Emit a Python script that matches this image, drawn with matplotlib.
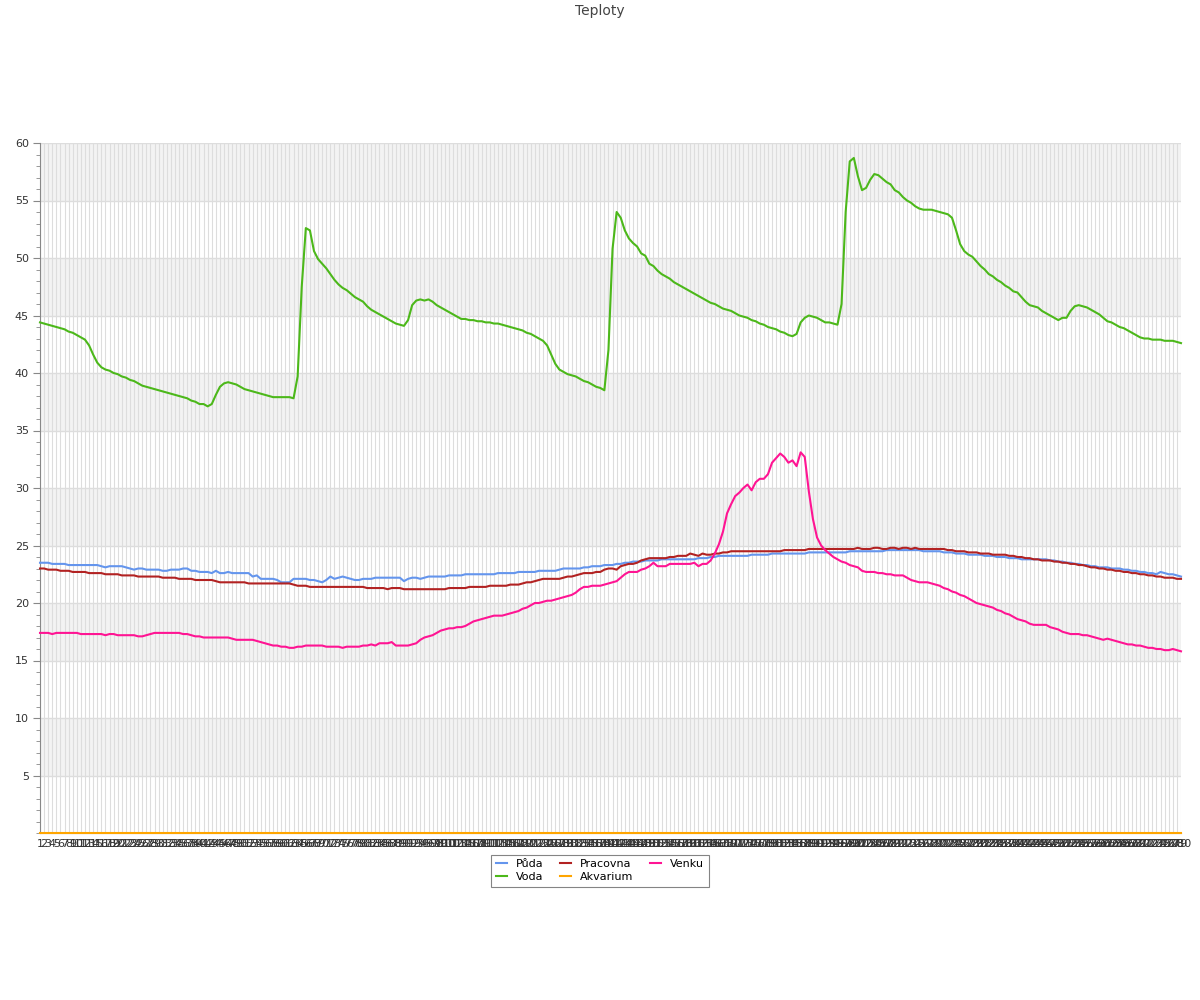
import matplotlib
matplotlib.use("Agg")
import matplotlib.pyplot as plt
from matplotlib.ticker import MultipleLocator

# Category labels on the x axis (one per measurement)
labels = [str(n) for n in range(1, 281)]

puda = [
    23.5, 23.5, 23.5, 23.4, 23.4, 23.4, 23.4, 23.3, 23.3, 23.3,
    23.3, 23.3, 23.3, 23.3, 23.3, 23.2, 23.1, 23.2, 23.2, 23.2,
    23.2, 23.1, 23.0, 22.9, 23.0, 23.0, 22.9, 22.9, 22.9, 22.9,
    22.8, 22.8, 22.9, 22.9, 22.9, 23.0, 23.0, 22.8, 22.8, 22.7,
    22.7, 22.7, 22.6, 22.8, 22.6, 22.6, 22.7, 22.6, 22.6, 22.6,
    22.6, 22.6, 22.3, 22.4, 22.1, 22.1, 22.1, 22.1, 22.0, 21.8,
    21.8, 21.8, 22.1, 22.1, 22.1, 22.1, 22.0, 22.0, 21.9, 21.8,
    22.0, 22.3, 22.1, 22.2, 22.3, 22.2, 22.1, 22.0, 22.0, 22.1,
    22.1, 22.1, 22.2, 22.2, 22.2, 22.2, 22.2, 22.2, 22.2, 21.9,
    22.1, 22.2, 22.2, 22.1, 22.2, 22.3, 22.3, 22.3, 22.3, 22.3,
    22.4, 22.4, 22.4, 22.4, 22.5, 22.5, 22.5, 22.5, 22.5, 22.5,
    22.5, 22.5, 22.6, 22.6, 22.6, 22.6, 22.6, 22.7, 22.7, 22.7,
    22.7, 22.7, 22.8, 22.8, 22.8, 22.8, 22.8, 22.9, 23.0, 23.0,
    23.0, 23.0, 23.0, 23.1, 23.1, 23.2, 23.2, 23.2, 23.3, 23.3,
    23.3, 23.4, 23.4, 23.5, 23.5, 23.6, 23.6, 23.6, 23.7, 23.7,
    23.7, 23.7, 23.8, 23.8, 23.8, 23.8, 23.8, 23.8, 23.8, 23.8,
    23.8, 23.9, 23.9, 23.9, 24.0, 24.0, 24.1, 24.1, 24.1, 24.1,
    24.1, 24.1, 24.1, 24.1, 24.2, 24.2, 24.2, 24.2, 24.2, 24.3,
    24.3, 24.3, 24.3, 24.3, 24.3, 24.3, 24.3, 24.3, 24.4, 24.4,
    24.4, 24.4, 24.4, 24.4, 24.4, 24.4, 24.4, 24.4, 24.5, 24.5,
    24.5, 24.5, 24.5, 24.5, 24.5, 24.5, 24.5, 24.6, 24.6, 24.6,
    24.6, 24.6, 24.6, 24.6, 24.6, 24.6, 24.5, 24.5, 24.5, 24.5,
    24.5, 24.4, 24.4, 24.4, 24.3, 24.3, 24.3, 24.2, 24.2, 24.2,
    24.2, 24.1, 24.1, 24.1, 24.0, 24.0, 24.0, 23.9, 23.9, 23.9,
    23.8, 23.8, 23.8, 23.8, 23.8, 23.8, 23.8, 23.7, 23.7, 23.6,
    23.6, 23.5, 23.5, 23.4, 23.4, 23.3, 23.3, 23.2, 23.2, 23.1,
    23.1, 23.1, 23.0, 23.0, 23.0, 22.9, 22.9, 22.8, 22.8, 22.7,
    22.7, 22.6, 22.6, 22.5, 22.7, 22.6, 22.5, 22.5, 22.4, 22.3,
]

voda = [
    44.4, 44.3, 44.2, 44.1, 44.0, 43.9, 43.8, 43.6, 43.5, 43.3,
    43.1, 42.9, 42.4, 41.6, 40.9, 40.5, 40.3, 40.2, 40.0, 39.9,
    39.7, 39.6, 39.4, 39.3, 39.1, 38.9, 38.8, 38.7, 38.6, 38.5,
    38.4, 38.3, 38.2, 38.1, 38.0, 37.9, 37.8, 37.6, 37.5, 37.3,
    37.3, 37.1, 37.3, 38.1, 38.8, 39.1, 39.2, 39.1, 39.0, 38.8,
    38.6, 38.5, 38.4, 38.3, 38.2, 38.1, 38.0, 37.9, 37.9, 37.9,
    37.9, 37.9, 37.8, 39.7, 47.5, 52.6, 52.4, 50.6, 49.9, 49.5,
    49.1, 48.6, 48.1, 47.7, 47.4, 47.2, 46.9, 46.6, 46.4, 46.2,
    45.8, 45.5, 45.3, 45.1, 44.9, 44.7, 44.5, 44.3, 44.2, 44.1,
    44.6, 45.9, 46.3, 46.4, 46.3, 46.4, 46.2, 45.9, 45.7, 45.5,
    45.3, 45.1, 44.9, 44.7, 44.7, 44.6, 44.6, 44.5, 44.5, 44.4,
    44.4, 44.3, 44.3, 44.2, 44.1, 44.0, 43.9, 43.8, 43.7, 43.5,
    43.4, 43.2, 43.0, 42.8, 42.4, 41.6, 40.8, 40.3, 40.1, 39.9,
    39.8, 39.7, 39.5, 39.3, 39.2, 39.0, 38.8, 38.7, 38.5, 42.0,
    50.8, 54.0, 53.5, 52.4, 51.7, 51.3, 51.0, 50.4, 50.2, 49.5,
    49.3, 48.9, 48.6, 48.4, 48.2, 47.9, 47.7, 47.5, 47.3, 47.1,
    46.9, 46.7, 46.5, 46.3, 46.1, 46.0, 45.8, 45.6, 45.5, 45.4,
    45.2, 45.0, 44.9, 44.8, 44.6, 44.5, 44.3, 44.2, 44.0, 43.9,
    43.8, 43.6, 43.5, 43.3, 43.2, 43.4, 44.4, 44.8, 45.0, 44.9,
    44.8, 44.6, 44.4, 44.4, 44.3, 44.2, 46.0, 54.0, 58.4, 58.7,
    57.1, 55.9, 56.1, 56.8, 57.3, 57.2, 56.9, 56.6, 56.4, 55.9,
    55.7, 55.3, 55.0, 54.8, 54.5, 54.3, 54.2, 54.2, 54.2, 54.1,
    54.0, 53.9, 53.8, 53.5, 52.4, 51.2, 50.6, 50.3, 50.1, 49.7,
    49.3, 49.0, 48.6, 48.4, 48.1, 47.9, 47.6, 47.4, 47.1, 47.0,
    46.6, 46.2, 45.9, 45.8, 45.7, 45.4, 45.2, 45.0, 44.8, 44.6,
    44.8, 44.8, 45.4, 45.8, 45.9, 45.8, 45.7, 45.5, 45.3, 45.1,
    44.8, 44.5, 44.4, 44.2, 44.0, 43.9, 43.7, 43.5, 43.3, 43.1,
    43.0, 43.0, 42.9, 42.9, 42.9, 42.8, 42.8, 42.8, 42.7, 42.6,
]

pracovna = [
    23.0, 23.0, 22.9, 22.9, 22.9, 22.8, 22.8, 22.8, 22.7, 22.7,
    22.7, 22.7, 22.6, 22.6, 22.6, 22.6, 22.5, 22.5, 22.5, 22.5,
    22.4, 22.4, 22.4, 22.4, 22.3, 22.3, 22.3, 22.3, 22.3, 22.3,
    22.2, 22.2, 22.2, 22.2, 22.1, 22.1, 22.1, 22.1, 22.0, 22.0,
    22.0, 22.0, 22.0, 21.9, 21.8, 21.8, 21.8, 21.8, 21.8, 21.8,
    21.8, 21.7, 21.7, 21.7, 21.7, 21.7, 21.7, 21.7, 21.7, 21.7,
    21.7, 21.7, 21.6, 21.5, 21.5, 21.5, 21.4, 21.4, 21.4, 21.4,
    21.4, 21.4, 21.4, 21.4, 21.4, 21.4, 21.4, 21.4, 21.4, 21.4,
    21.3, 21.3, 21.3, 21.3, 21.3, 21.2, 21.3, 21.3, 21.3, 21.2,
    21.2, 21.2, 21.2, 21.2, 21.2, 21.2, 21.2, 21.2, 21.2, 21.2,
    21.3, 21.3, 21.3, 21.3, 21.3, 21.4, 21.4, 21.4, 21.4, 21.4,
    21.5, 21.5, 21.5, 21.5, 21.5, 21.6, 21.6, 21.6, 21.7, 21.8,
    21.8, 21.9, 22.0, 22.1, 22.1, 22.1, 22.1, 22.1, 22.2, 22.3,
    22.3, 22.4, 22.5, 22.6, 22.6, 22.6, 22.7, 22.7, 22.9, 23.0,
    23.0, 22.9, 23.2, 23.3, 23.4, 23.4, 23.5, 23.7, 23.8, 23.9,
    23.9, 23.9, 23.9, 23.9, 24.0, 24.0, 24.1, 24.1, 24.1, 24.3,
    24.2, 24.1, 24.3, 24.2, 24.2, 24.3, 24.3, 24.4, 24.4, 24.5,
    24.5, 24.5, 24.5, 24.5, 24.5, 24.5, 24.5, 24.5, 24.5, 24.5,
    24.5, 24.5, 24.6, 24.6, 24.6, 24.6, 24.6, 24.6, 24.7, 24.7,
    24.7, 24.7, 24.7, 24.7, 24.7, 24.7, 24.7, 24.7, 24.7, 24.7,
    24.8, 24.7, 24.7, 24.7, 24.8, 24.8, 24.7, 24.7, 24.8, 24.8,
    24.7, 24.8, 24.8, 24.7, 24.8, 24.7, 24.7, 24.7, 24.7, 24.7,
    24.7, 24.7, 24.6, 24.6, 24.5, 24.5, 24.5, 24.4, 24.4, 24.4,
    24.3, 24.3, 24.3, 24.2, 24.2, 24.2, 24.2, 24.1, 24.1, 24.0,
    24.0, 23.9, 23.9, 23.8, 23.8, 23.7, 23.7, 23.7, 23.6, 23.6,
    23.5, 23.5, 23.4, 23.4, 23.3, 23.3, 23.2, 23.1, 23.1, 23.0,
    23.0, 22.9, 22.9, 22.8, 22.8, 22.7, 22.7, 22.6, 22.6, 22.5,
    22.5, 22.4, 22.4, 22.3, 22.3, 22.2, 22.2, 22.2, 22.1, 22.1,
]

akvarium = [0.0] * 280

venku = [
    17.4, 17.4, 17.4, 17.3, 17.4, 17.4, 17.4, 17.4, 17.4, 17.4,
    17.3, 17.3, 17.3, 17.3, 17.3, 17.3, 17.2, 17.3, 17.3, 17.2,
    17.2, 17.2, 17.2, 17.2, 17.1, 17.1, 17.2, 17.3, 17.4, 17.4,
    17.4, 17.4, 17.4, 17.4, 17.4, 17.3, 17.3, 17.2, 17.1, 17.1,
    17.0, 17.0, 17.0, 17.0, 17.0, 17.0, 17.0, 16.9, 16.8, 16.8,
    16.8, 16.8, 16.8, 16.7, 16.6, 16.5, 16.4, 16.3, 16.3, 16.2,
    16.2, 16.1, 16.1, 16.2, 16.2, 16.3, 16.3, 16.3, 16.3, 16.3,
    16.2, 16.2, 16.2, 16.2, 16.1, 16.2, 16.2, 16.2, 16.2, 16.3,
    16.3, 16.4, 16.3, 16.5, 16.5, 16.5, 16.6, 16.3, 16.3, 16.3,
    16.3, 16.4, 16.5, 16.8, 17.0, 17.1, 17.2, 17.4, 17.6, 17.7,
    17.8, 17.8, 17.9, 17.9, 18.0, 18.2, 18.4, 18.5, 18.6, 18.7,
    18.8, 18.9, 18.9, 18.9, 19.0, 19.1, 19.2, 19.3, 19.5, 19.6,
    19.8, 20.0, 20.0, 20.1, 20.2, 20.2, 20.3, 20.4, 20.5, 20.6,
    20.7, 20.9, 21.2, 21.4, 21.4, 21.5, 21.5, 21.5, 21.6, 21.7,
    21.8, 21.9, 22.2, 22.5, 22.7, 22.7, 22.7, 22.9, 23.0, 23.2,
    23.5, 23.2, 23.2, 23.2, 23.4, 23.4, 23.4, 23.4, 23.4, 23.4,
    23.5, 23.2, 23.4, 23.4, 23.7, 24.3, 25.1, 26.2, 27.8, 28.6,
    29.3, 29.6, 30.0, 30.3, 29.8, 30.5, 30.8, 30.8, 31.2, 32.2,
    32.6, 33.0, 32.7, 32.2, 32.4, 31.9, 33.1, 32.7, 29.7, 27.3,
    25.7, 25.0, 24.6, 24.3, 24.0, 23.8, 23.6, 23.5, 23.3, 23.2,
    23.1, 22.8, 22.7, 22.7, 22.7, 22.6, 22.6, 22.5, 22.5, 22.4,
    22.4, 22.4, 22.2, 22.0, 21.9, 21.8, 21.8, 21.8, 21.7, 21.6,
    21.5, 21.3, 21.2, 21.0, 20.9, 20.7, 20.6, 20.4, 20.2, 20.0,
    19.9, 19.8, 19.7, 19.6, 19.4, 19.3, 19.1, 19.0, 18.8, 18.6,
    18.5, 18.4, 18.2, 18.1, 18.1, 18.1, 18.1, 17.9, 17.8, 17.7,
    17.5, 17.4, 17.3, 17.3, 17.3, 17.2, 17.2, 17.1, 17.0, 16.9,
    16.8, 16.9, 16.8, 16.7, 16.6, 16.5, 16.4, 16.4, 16.3, 16.3,
    16.2, 16.1, 16.1, 16.0, 16.0, 15.9, 15.9, 16.0, 15.9, 15.8,
]

series = [
    ("Půda", puda, "#6495ed"),
    ("Voda", voda, "#4cb81a"),
    ("Pracovna", pracovna, "#b22222"),
    ("Akvarium", akvarium, "#ffa500"),
    ("Venku", venku, "#ff1493"),
]

fig = plt.figure(figsize=(12, 10), dpi=100)
ax = fig.add_axes([40 / 1200, 1 - 833 / 1000, 1141 / 1200, 690 / 1000])

# alternating grey bands
for lo in range(5, 60, 10):
    ax.axhspan(lo, lo + 5, color="#f3f3f3", zorder=0, lw=0)

x = list(range(len(labels)))
for name, vals, col in series:
    ax.plot(x, vals, color=col, lw=1.5, label=name, zorder=3, clip_on=False)

ax.set_xlim(0, len(labels) - 1)
ax.set_ylim(0, 60)
ax.set_xticks(x)
ax.set_xticklabels(labels, fontsize=8, color="#333333")
ax.tick_params(axis="x", length=0, pad=4)
ax.set_yticks(range(5, 61, 5))
ax.yaxis.set_minor_locator(MultipleLocator(1))
ax.tick_params(axis="y", which="major", length=5, color="#888888",
               labelsize=8, labelcolor="#333333", pad=3)
ax.tick_params(axis="y", which="minor", length=3, color="#888888")

ax.grid(axis="x", color="#dddddd", lw=0.8, zorder=1)
ax.grid(axis="y", color="#dddddd", lw=1.0, zorder=1)
ax.set_axisbelow(True)

for s in ["top", "right"]:
    ax.spines[s].set_visible(False)
ax.spines["left"].set_color("#888888")
ax.spines["bottom"].set_color("#888888")

fig.text(0.5, 0.989, "Teploty", ha="center", va="center", fontsize=10, color="#444444")

leg = fig.legend(loc="upper center", bbox_to_anchor=(0.5, 0.151), ncol=3,
                 fontsize=8, frameon=True, fancybox=False, handlelength=1.0,
                 columnspacing=1.5, borderpad=0.4, labelspacing=0.3, handletextpad=0.8)
leg.get_frame().set_edgecolor("#666666")
leg.get_frame().set_linewidth(0.8)

fig.savefig("out.png", dpi=100)
